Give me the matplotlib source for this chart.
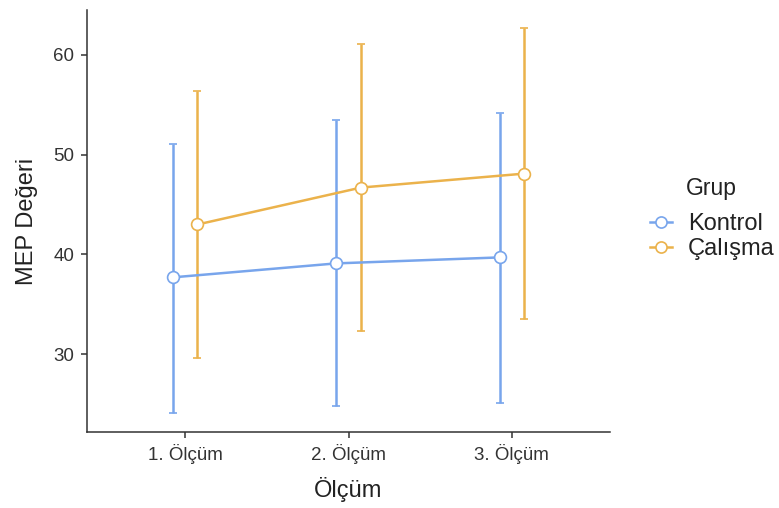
import matplotlib.pyplot as plt
from matplotlib.lines import Line2D
import numpy as np

plt.rcParams['font.family'] = ['Liberation Sans', 'DejaVu Sans']

olcumler = ["1. Ölçüm", "2. Ölçüm", "3. Ölçüm"]
gruplar = ["Kontrol", "Çalışma"]
renkler = ["#78A5EC", "#EBB24B"]

kontrol_ort = [37.7, 39.1, 39.7]
kontrol_alt = [24.15, 24.8, 25.1]
kontrol_ust = [51.1, 53.5, 54.2]

calisma_ort = [43.0, 46.7, 48.1]
calisma_alt = [29.6, 32.35, 33.55]
calisma_ust = [56.4, 61.1, 62.7]

seriler = [
    (kontrol_ort, kontrol_alt, kontrol_ust),
    (calisma_ort, calisma_alt, calisma_ust),
]

fig = plt.figure(figsize=(7.79, 5.08), dpi=100)
ax = fig.add_axes([87 / 779, 1 - 432 / 508, (610 - 87) / 779, (432 - 10) / 508])

x = np.arange(1, 4)
kayma = [-0.076, 0.076]
for (ort, alt, ust), renk, grup, dx in zip(seriler, renkler, gruplar, kayma):
    ort = np.array(ort)
    hata = [ort - np.array(alt), np.array(ust) - ort]
    ax.errorbar(x + dx, ort, yerr=hata, color=renk, lw=1.8, capsize=3,
                capthick=1.8, marker="o", markersize=8.5, mfc="white",
                mec=renk, mew=1.2)

ax.set_xlim(0.4, 3.6)
ax.set_ylim(22.2, 64.5)
ax.set_xticks(x)
ax.set_xticklabels(olcumler)
ax.set_yticks([30, 40, 50, 60])

for s in ["top", "right"]:
    ax.spines[s].set_visible(False)
for s in ["left", "bottom"]:
    ax.spines[s].set_color("#333333")
    ax.spines[s].set_linewidth(1.1)
ax.tick_params(colors="#333333", labelsize=13.5, length=4, width=1.1, pad=5)
for lbl in ax.get_xticklabels() + ax.get_yticklabels():
    lbl.set_color("#333333")

ax.set_xlabel("Ölçüm", fontsize=17, labelpad=9, color="#222222")
ax.set_ylabel("MEP Değeri", fontsize=17, labelpad=11, color="#222222")

# legend keys: line with open circle, no error caps
tutamaklar = [Line2D([0], [0], color=r, lw=1.8, marker="o", markersize=8,
                     mfc="white", mec=r, mew=1.2) for r in renkler]
fig.text(686 / 779, 1 - 189 / 508, "Grup", fontsize=16.5, va="center",
         ha="left", color="#222222")
leg = fig.legend(tutamaklar, gruplar, loc="upper left",
                 bbox_to_anchor=(650 / 779, 1 - 213 / 508), frameon=False,
                 fontsize=17, handlelength=0.95, handletextpad=0.65,
                 labelspacing=0.12, borderpad=0, borderaxespad=0)
for t in leg.get_texts():
    t.set_color("#222222")

fig.savefig("out.png", dpi=100)
